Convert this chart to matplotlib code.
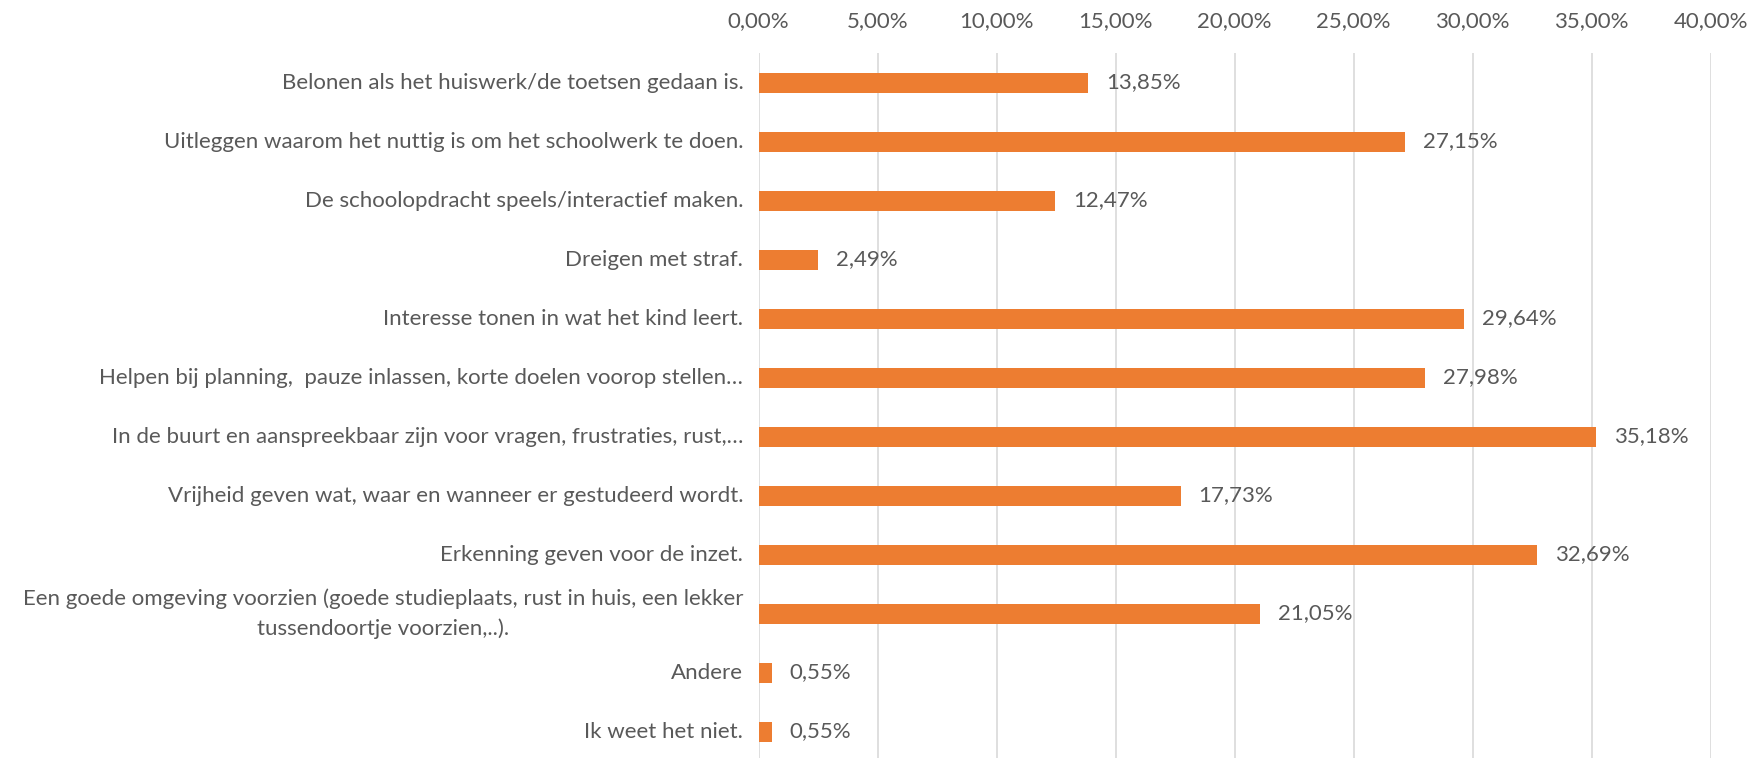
import matplotlib
matplotlib.use("Agg")
import matplotlib.pyplot as plt
from matplotlib.ticker import FuncFormatter, MultipleLocator

categories = [
    "Belonen als het huiswerk/de toetsen gedaan is.",
    "Uitleggen waarom het nuttig is om het schoolwerk te doen.",
    "De schoolopdracht speels/interactief maken.",
    "Dreigen met straf.",
    "Interesse tonen in wat het kind leert.",
    "Helpen bij planning,  pauze inlassen, korte doelen voorop stellen…",
    "In de buurt en aanspreekbaar zijn voor vragen, frustraties, rust,…",
    "Vrijheid geven wat, waar en wanneer er gestudeerd wordt.",
    "Erkenning geven voor de inzet.",
    "Een goede omgeving voorzien (goede studieplaats, rust in huis, een lekker\ntussendoortje voorzien,..).",
    "Andere",
    "Ik weet het niet.",
]
values = [13.85, 27.15, 12.47, 2.49, 29.64, 27.98, 35.18, 17.73, 32.69, 21.05, 0.55, 0.55]

plt.rcParams['font.family'] = ['Lato', 'DejaVu Sans']
TEXT = '#595959'
FS = 16

fig = plt.figure(figsize=(17.6, 7.58), dpi=100)
ax = fig.add_axes([0.431, -0.004, 0.541, 0.934])

ypos = list(range(len(categories)))
ax.barh(ypos, values, height=0.34, color='#ED7D31', zorder=3)
ax.set_ylim(len(categories) - 0.5, -0.5)
ax.set_xlim(0, 40)
ax.xaxis.set_major_locator(MultipleLocator(5))
ax.xaxis.set_major_formatter(FuncFormatter(lambda v, p: f"{v:.2f}%".replace('.', ',')))
ax.xaxis.tick_top()
ax.grid(axis='x', color='#D9D9D9', linewidth=1.2, zorder=0)
for s in ax.spines.values():
    s.set_visible(False)
ax.tick_params(axis='both', length=0, colors=TEXT, labelsize=FS)
ax.tick_params(axis='x', pad=16)
ax.set_yticks(ypos)
ax.set_yticklabels([])

for y, c in zip(ypos, categories):
    ax.annotate(c, (0, y), xytext=(-11, 0), textcoords='offset points',
                ha='right', va='center', multialignment='center',
                linespacing=1.6, color=TEXT, fontsize=FS, annotation_clip=False)

for y, v in zip(ypos, values):
    ax.annotate(f"{v:.2f}%".replace('.', ','), (v, y), xytext=(13, 0),
                textcoords='offset points', va='center', ha='left',
                color=TEXT, fontsize=FS)

fig.savefig('out.png', dpi=100)
